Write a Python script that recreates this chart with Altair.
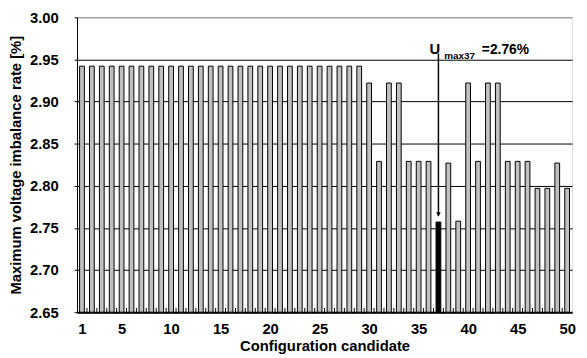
import altair as alt
import pandas as pd

candidates = list(range(1, 51))
values = [2.942] * 29 + [
    2.922, 2.829, 2.922, 2.922, 2.829, 2.829, 2.829, 2.757, 2.827, 2.758,
    2.922, 2.829, 2.922, 2.922, 2.829, 2.829, 2.829, 2.797, 2.797, 2.827,
    2.797,
]
best = 37
y_ticks = [2.65, 2.70, 2.75, 2.80, 2.85, 2.90, 2.95, 3.00]
x_ticks = [1, 5, 10, 15, 20, 25, 30, 35, 40, 45, 50]

df = pd.DataFrame({"cand": candidates, "val": values})
df["sel"] = df["cand"] == best

FONT = "Liberation Sans"
HALF = 0.24

xscale = alt.Scale(domain=[0.5, 50.5], nice=False, zero=False)
yscale = alt.Scale(domain=[2.65, 3.00], nice=False, zero=False)

x_enc = alt.X(
    "x0:Q", scale=xscale, title="Configuration candidate",
    axis=alt.Axis(
        values=x_ticks, format="d", ticks=False, grid=False,
        domainColor="black", domainWidth=2,
        labelFont=FONT, labelFontSize=15, labelFontWeight="bold", labelColor="black",
        labelPadding=10, labelFlush=False, titleFont=FONT, titleFontSize=15,
        titleFontWeight="bold", titleColor="black", titlePadding=2,
    ),
)
y_enc = alt.Y(
    "val:Q", scale=yscale, title="Maximum voltage imbalance rate [%]",
    axis=alt.Axis(
        values=y_ticks, format=".2f", grid=True,
        gridColor={"condition": {"test": "datum.value >= 2.999", "value": "#808080"}, "value": "black"},
        gridWidth=1, domainColor="black", domainWidth=1, tickColor="black", tickSize=3,
        labelFont=FONT, labelFontSize=15, labelFontWeight="bold", labelColor="black",
        labelPadding=16, titleFont=FONT, titleFontSize=15, titleFontWeight="bold",
        titleColor="black", titlePadding=6,
    ),
)

base = alt.Chart(df)

bars = base.transform_calculate(
    x0=f"datum.cand - {HALF}", x1=f"datum.cand + {HALF}"
).mark_bar(stroke="black", strokeWidth=1).encode(
    x=x_enc,
    x2="x1:Q",
    y=y_enc,
    y2=alt.datum(2.65),
    fill=alt.condition("datum.sel", alt.value("black"), alt.value("#c0c0c0")),
)

ticks = base.transform_filter("datum.cand < 50").transform_calculate(
    xb="datum.cand + 0.5"
).mark_rule(color="black", strokeWidth=1).encode(
    x=alt.X("xb:Q", scale=xscale),
    y=alt.datum(2.65, scale=yscale),
    y2=alt.datum(2.655),
)

ann_line = pd.DataFrame({"cand": [best], "top": [2.957], "bot": [2.764]})
line = alt.Chart(ann_line).mark_rule(color="black", strokeWidth=1.5).encode(
    x=alt.X("cand:Q", scale=xscale),
    y=alt.Y("top:Q", scale=yscale),
    y2="bot:Q",
)
head = alt.Chart(ann_line).mark_point(
    shape="triangle-down", filled=True, color="black", size=22, opacity=1, yOffset=-2
).encode(
    x=alt.X("cand:Q", scale=xscale),
    y=alt.Y("bot:Q", scale=yscale),
)

ann_text = pd.DataFrame({
    "cand": [best, best, best],
    "yv": [2.957, 2.951, 2.957],
    "txt": ["U", "max37", "=2.76%"],
    "dx": [-9, 6, 44],
    "fs": [15, 10, 14],
})
texts = []
for i in range(3):
    texts.append(
        alt.Chart(ann_text.iloc[[i]]).mark_text(
            align="left", baseline="alphabetic", font=FONT, fontWeight="bold",
            fontSize=int(ann_text["fs"][i]), dx=int(ann_text["dx"][i]), color="black",
        ).encode(
            x=alt.X("cand:Q", scale=xscale),
            y=alt.Y("yv:Q", scale=yscale),
            text="txt:N",
        )
    )

chart = alt.layer(bars, ticks, line, head, *texts).properties(
    width=502, height=299,
    autosize=alt.AutoSizeParams(type="none"),
    padding={"left": 70, "top": 7, "right": 7, "bottom": 44},
).configure_view(stroke="#808080", strokeWidth=1).configure(background="white")

chart.save("out.html", embed_options={"renderer": "svg", "actions": False})
